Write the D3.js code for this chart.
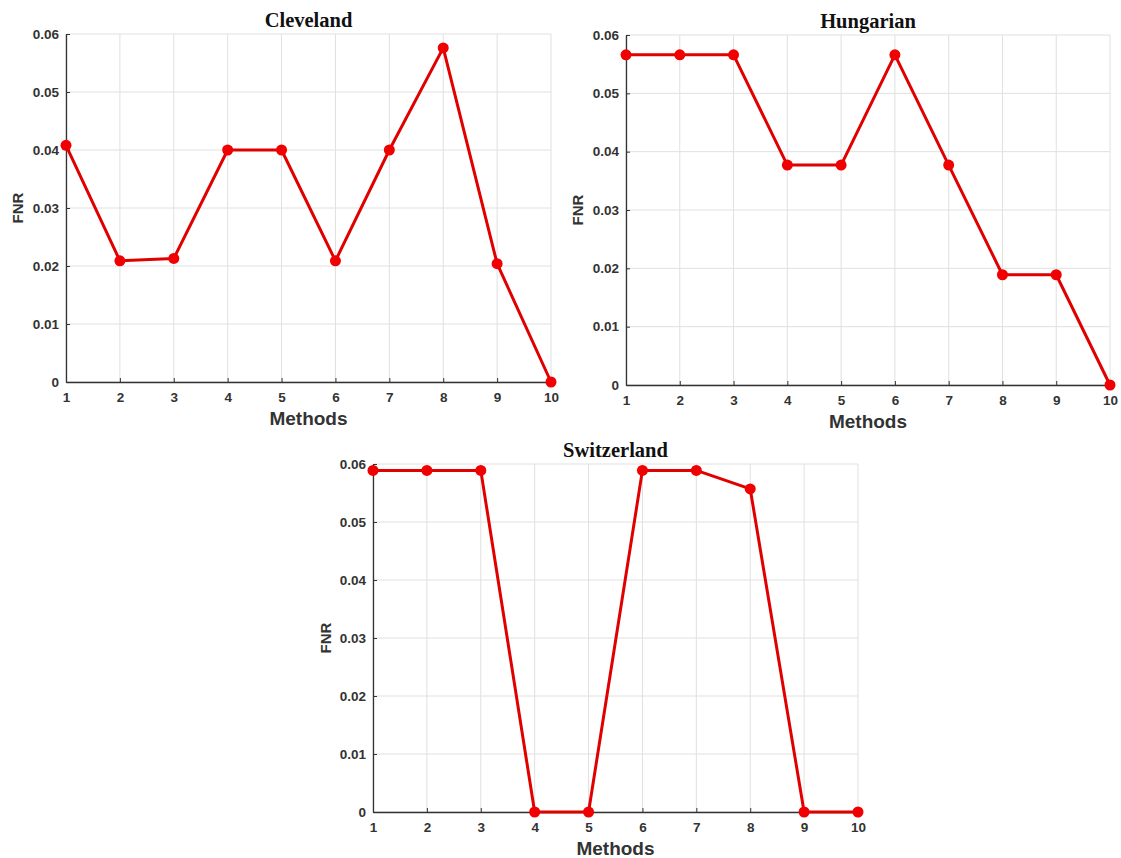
<!DOCTYPE html>
<html>
<head>
<meta charset="utf-8">
<script src="https://cdn.jsdelivr.net/npm/d3@7"></script>
<style>
  html, body { margin: 0; padding: 0; background: #fff; }
  svg { display: block; }
  .tick text { font-family: "Liberation Sans", Arial, sans-serif; font-weight: bold; font-size: 13.5px; fill: #333; }
</style>
</head>
<body>
<svg id="chart" width="1121" height="858"></svg>
<script>
// Method indices on the x axis
const methods = [1, 2, 3, 4, 5, 6, 7, 8, 9, 10];
const yTicks = [0, 0.01, 0.02, 0.03, 0.04, 0.05, 0.06];

// False negative rate per method, one array per dataset
const cleveland   = [0.0408, 0.0209, 0.0213, 0.0400, 0.0400, 0.0209, 0.0400, 0.0576, 0.0204, 0];
const hungarian   = [0.0566, 0.0566, 0.0566, 0.0377, 0.0377, 0.0566, 0.0377, 0.0189, 0.0189, 0];
const switzerland = [0.0589, 0.0589, 0.0589, 0, 0, 0.0589, 0.0589, 0.0557, 0, 0];

const panels = [
  { title: "Cleveland",   values: cleveland,   left: 66,  top: 34,  width: 485, height: 348, labelX: 18 },
  { title: "Hungarian",   values: hungarian,   left: 626, top: 35,  width: 484, height: 350, labelX: 578 },
  { title: "Switzerland", values: switzerland, left: 373, top: 464, width: 485, height: 348, labelX: 326 }
];

const svg = d3.select("#chart");

panels.forEach(p => {
  const g = svg.append("g").attr("transform", `translate(${p.left},${p.top})`);
  const x = d3.scaleLinear().domain([1, 10]).range([0, p.width]);
  const y = d3.scaleLinear().domain([0, 0.06]).range([p.height, 0]);

  // grid
  g.append("g").selectAll("line.v").data(methods).join("line")
    .attr("x1", d => x(d)).attr("x2", d => x(d))
    .attr("y1", 0).attr("y2", p.height)
    .attr("stroke", "#e0e0e0").attr("stroke-width", 1);
  g.append("g").selectAll("line.h").data(yTicks).join("line")
    .attr("x1", 0).attr("x2", p.width)
    .attr("y1", d => y(d)).attr("y2", d => y(d))
    .attr("stroke", "#e0e0e0").attr("stroke-width", 1);

  // axes with inward ticks
  const xAxis = d3.axisBottom(x).tickValues(methods).tickFormat(d3.format("d"))
    .tickSizeInner(-4).tickSizeOuter(0).tickPadding(9);
  const gx = g.append("g").attr("transform", `translate(0,${p.height})`).call(xAxis);
  gx.select(".domain").attr("stroke", "#333").attr("stroke-width", 1.3);
  gx.selectAll(".tick line").attr("stroke", "#333");
  gx.selectAll(".tick text").attr("dy", "0.85em");

  const yAxis = d3.axisLeft(y).tickValues(yTicks).tickFormat(d => d === 0 ? "0" : d3.format(".2f")(d))
    .tickSizeInner(-4).tickSizeOuter(0).tickPadding(7);
  const gy = g.append("g").call(yAxis);
  gy.select(".domain").attr("stroke", "#333").attr("stroke-width", 1.3);
  gy.selectAll(".tick line").attr("stroke", "#333");

  // series line and markers
  const line = d3.line().x((d, i) => x(methods[i])).y(d => y(d));
  g.append("path").datum(p.values)
    .attr("d", line).attr("fill", "none")
    .attr("stroke", "#e00000").attr("stroke-width", 3).attr("stroke-linejoin", "round");
  g.append("g").selectAll("circle").data(p.values).join("circle")
    .attr("cx", (d, i) => x(methods[i])).attr("cy", d => y(d))
    .attr("r", 5.5).attr("fill", "#f00000");

  // title
  g.append("text").attr("x", p.width / 2).attr("y", -7)
    .attr("text-anchor", "middle")
    .attr("font-family", "'Liberation Serif', 'Times New Roman', serif")
    .attr("font-weight", "bold").attr("font-size", 20.5).attr("fill", "#111")
    .text(p.title);

  // axis labels
  g.append("text").attr("x", p.width / 2).attr("y", p.height + 43)
    .attr("text-anchor", "middle")
    .attr("font-family", "'Liberation Sans', Arial, sans-serif")
    .attr("font-weight", "bold").attr("font-size", 19).attr("fill", "#333")
    .text("Methods");

  svg.append("text")
    .attr("transform", `translate(${p.labelX + 5},${p.top + p.height / 2}) rotate(-90)`)
    .attr("text-anchor", "middle")
    .attr("font-family", "'Liberation Sans', Arial, sans-serif")
    .attr("font-weight", "bold").attr("font-size", 15).attr("fill", "#333")
    .text("FNR");
});
</script>
</body>
</html>
